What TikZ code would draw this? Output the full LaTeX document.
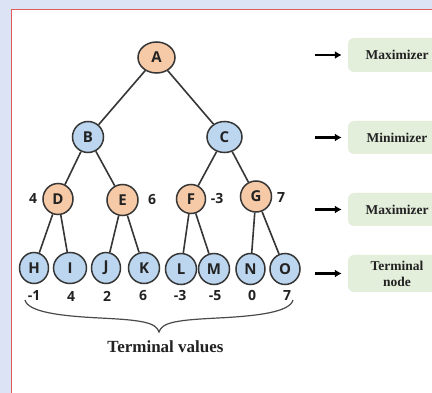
\documentclass[tikz,border=0pt]{standalone}
\usepackage{fontspec}
\setmainfont{Liberation Serif}
\newfontfamily\nodefont{Open Sans}
\usetikzlibrary{shapes.geometric,arrows.meta}
\definecolor{bgblue}{HTML}{DBE3F4}
\definecolor{panelred}{HTML}{E05A5A}
\definecolor{orangefill}{HTML}{F7CAA7}
\definecolor{bluefill}{HTML}{BDD6EF}
\definecolor{outline}{HTML}{363636}
\definecolor{greenbox}{HTML}{E3EEDB}
\definecolor{textdark}{HTML}{222222}
\tikzset{
  tnode/.style={ellipse, draw=outline, line width=1.5pt, minimum width=31pt, minimum height=31pt,
    inner sep=0pt, text=textdark, font=\nodefont\bfseries\fontsize{15}{15}\selectfont},
  maxnode/.style={tnode, fill=orangefill},
  minnode/.style={tnode, fill=bluefill},
  edge/.style={draw=outline, line width=1.6pt},
  valtext/.style={inner sep=0pt, text=textdark, font=\nodefont\bfseries\fontsize{14}{14}\selectfont},
  labbox/.style={rectangle, rounded corners=6pt, fill=greenbox, minimum width=98pt, inner sep=0pt,
    text=textdark, align=center, font=\bfseries\fontsize{13.5}{16}\selectfont},
  arr/.style={draw=black, line width=2.3pt, -{Latex[length=7pt,width=8pt]}, shorten >=6pt}
}
\begin{document}
\begin{tikzpicture}[x=1pt,y=-1pt]
\useasboundingbox (0,0) rectangle (432,393);
\clip (0,0) rectangle (432,393);
\fill[bgblue] (0,0) rectangle (432,393);
\fill[white] (11,9.5) rectangle (440,400);
\draw[panelred, line width=0.8pt] (11,400) -- (11,9.5) -- (440,9.5);

% tree nodes
\node[maxnode, minimum width=37pt] (A) at (156.5,57.5) {A};
\node[minnode] (B) at (88,137) {B};
\node[minnode, minimum width=35pt] (C) at (224.5,137) {C};
\node[maxnode, minimum width=30pt] (D) at (58,199) {D};
\node[maxnode] (E) at (122.5,200) {E};
\node[maxnode, minimum width=29pt, minimum height=29pt] (F) at (191,199) {F};
\node[maxnode] (G) at (256,196.5) {G};
\node[minnode, minimum width=29pt] (H) at (34,268) {H};
\node[minnode, minimum width=33pt] (I) at (70,268) {I};
\node[minnode, minimum width=29pt] (J) at (106,268) {J};
\node[minnode] (K) at (144,268) {K};
\node[minnode] (L) at (181,269) {L};
\node[minnode] (M) at (214,269) {M};
\node[minnode, minimum width=29pt] (N) at (250.5,269) {N};
\node[minnode, minimum width=30pt] (O) at (285,269) {O};

% edges
\draw[edge] (A) -- (B);
\draw[edge] (A) -- (C);
\draw[edge] (B) -- (D);
\draw[edge] (B) -- (E);
\draw[edge] (C) -- (F);
\draw[edge] (C) -- (G);
\draw[edge] (D) -- (H);
\draw[edge] (D) -- (I);
\draw[edge] (E) -- (J);
\draw[edge] (E) -- (K);
\draw[edge] (F) -- (L);
\draw[edge] (F) -- (M);
\draw[edge] (G) -- (N);
\draw[edge] (G) -- (O);

% values beside internal nodes
\node[valtext] (vD) at (33,199) {4};
\node[valtext] (vE) at (152,200) {6};
\node[valtext] (vF) at (217,199) {-3};
\node[valtext] (vG) at (281,197.5) {7};

% terminal values
\node[valtext] (vH) at (34,296) {-1};
\node[valtext] (vI) at (71,296.5) {4};
\node[valtext] (vJ) at (107,296.5) {2};
\node[valtext] (vK) at (143,296) {6};
\node[valtext] (vL) at (180,295.5) {-3};
\node[valtext] (vM) at (215,295.5) {-5};
\node[valtext] (vN) at (252,295.5) {0};
\node[valtext] (vO) at (287,295.5) {7};

% brace
\draw[draw=outline!90, line width=1.2pt]
  (25,300) .. controls (28,312) and (60,316) .. (100,318)
  .. controls (140,320) and (156,322) .. (159,332)
  .. controls (162,322) and (178,320) .. (218,318)
  .. controls (258,316) and (290,312) .. (293,300);
\node[text=textdark, font=\bfseries\fontsize{17}{18}\selectfont] (tv) at (165.5,347) {Terminal values};

% level labels
\node[labbox, minimum height=34pt] (b1) at (397,55) {Maximizer};
\node[labbox, minimum height=33pt] (b2) at (397,137.5) {Minimizer};
\node[labbox, minimum height=33pt] (b3) at (397,209.5) {Maximizer};
\node[labbox, minimum height=37pt] (b4) at (397,273.5) {Terminal\\node};

\coordinate (s1) at (315,55);
\coordinate (s2) at (315,137.5);
\coordinate (s3) at (315,209.5);
\coordinate (s4) at (315,273.5);
\draw[arr] (s1) -- (b1.west);
\draw[arr] (s2) -- (b2.west);
\draw[arr] (s3) -- (b3.west);
\draw[arr] (s4) -- (b4.west);
\end{tikzpicture}
\end{document}
